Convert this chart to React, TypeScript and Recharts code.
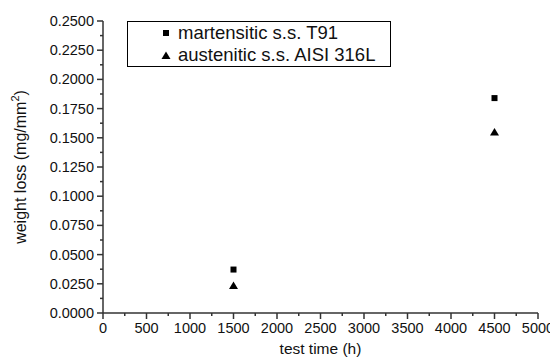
import React from 'react';
import { ScatterChart, Scatter, XAxis, YAxis, Legend } from 'recharts';

const timesT91 = [1500, 4500];
const lossT91 = [0.0372, 0.184];
const times316L = [1500, 4500];
const loss316L = [0.0235, 0.155];
const seriesNames = ['martensitic s.s. T91', 'austenitic s.s. AISI 316L'];

const xMajor = [0, 500, 1000, 1500, 2000, 2500, 3000, 3500, 4000, 4500, 5000];
const xMinor = [250, 750, 1250, 1750, 2250, 2750, 3250, 3750, 4250, 4750];
const yMajor = [0, 0.025, 0.05, 0.075, 0.1, 0.125, 0.15, 0.175, 0.2, 0.225, 0.25];
const yMinor = [0.0125, 0.0375, 0.0625, 0.0875, 0.1125, 0.1375, 0.1625, 0.1875, 0.2125, 0.2375];

const FONT = '"Liberation Sans", Arial, sans-serif';
const AXIS = '#333';

const dataT91 = timesT91.map((t, i) => ({ x: t, y: lossT91[i] }));
const data316L = times316L.map((t, i) => ({ x: t, y: loss316L[i] }));

const isMajor = (arr: number[], v: number) => arr.some((m) => Math.abs(m - v) < 1e-9);

const XTick = (props: any) => {
  const { x, y, payload } = props;
  const v = payload.value;
  const major = isMajor(xMajor, v);
  return (
    <g>
      <line x1={x} x2={x} y1={y} y2={y + (major ? 6 : 3)} stroke={AXIS} strokeWidth={1.5} />
      {major && (
        <text x={x} y={y + 20} textAnchor="middle" fontSize={14.5} fontFamily={FONT} fill="#111">
          {v}
        </text>
      )}
    </g>
  );
};

const YTick = (props: any) => {
  const { x, y, payload } = props;
  const v = payload.value;
  const major = isMajor(yMajor, v);
  return (
    <g>
      <line x1={x} x2={x - (major ? 6 : 3)} y1={y} y2={y} stroke={AXIS} strokeWidth={1.5} />
      {major && (
        <text x={x - 9} y={y + 5} textAnchor="end" fontSize={14.5} fontFamily={FONT} fill="#111">
          {v.toFixed(4)}
        </text>
      )}
    </g>
  );
};

const SquareShape = (props: any) => {
  const { cx, cy } = props;
  return <rect x={cx - 3} y={cy - 3} width={6} height={6} fill="#000" />;
};

const TriangleShape = (props: any) => {
  const { cx, cy } = props;
  return <polygon points={`${cx},${cy - 4} ${cx + 4.5},${cy + 3.5} ${cx - 4.5},${cy + 3.5}`} fill="#000" />;
};

const YLabel = (props: any) => {
  const { viewBox } = props;
  const cy = viewBox.y + viewBox.height / 2;
  const x = 18;
  return (
    <text
      x={x}
      y={cy}
      transform={`rotate(-90, ${x}, ${cy})`}
      textAnchor="middle"
      fontSize={16}
      fontFamily={FONT}
      fill="#111"
    >
      weight loss (mg/mm<tspan dy={-7} fontSize={11}>2</tspan>
      <tspan dy={7}>)</tspan>
    </text>
  );
};

const XLabel = (props: any) => {
  const { viewBox } = props;
  const cx = viewBox.x + viewBox.width / 2;
  return (
    <text x={cx} y={346} textAnchor="middle" fontSize={15.5} fontFamily={FONT} fill="#111">
      test time (h)
    </text>
  );
};

const LegendBox = () => (
  <div
    style={{
      border: '1px solid #000',
      background: '#fff',
      padding: '0px 15px 0px 33px',
      fontFamily: FONT,
      fontSize: 18.5,
      lineHeight: '22px',
      color: '#111',
      whiteSpace: 'nowrap',
    }}
  >
    <div style={{ display: 'flex', alignItems: 'center' }}>
      <svg width={10} height={10} style={{ marginRight: 7 }}>
        <rect x={2} y={2} width={6} height={6} fill="#000" />
      </svg>
      {seriesNames[0]}
    </div>
    <div style={{ display: 'flex', alignItems: 'center' }}>
      <svg width={10} height={10} style={{ marginRight: 7 }}>
        <polygon points="5,1.5 9.5,9 0.5,9" fill="#000" />
      </svg>
      {seriesNames[1]}
    </div>
  </div>
);

export default function App() {
  return (
    <div style={{ width: 550, height: 352 }}>
      <ScatterChart width={550} height={352} margin={{ top: 13, right: 20, bottom: 0, left: 0 }}>
        <XAxis
          type="number"
          dataKey="x"
          domain={[0, 5000]}
          ticks={[...xMajor, ...xMinor].sort((a, b) => a - b)}
          interval={0}
          height={47}
          tickSize={0}
          tickMargin={0}
          tickLine={false}
          tick={<XTick />}
          axisLine={{ stroke: AXIS, strokeWidth: 1.5 }}
          label={<XLabel />}
        />
        <YAxis
          type="number"
          dataKey="y"
          domain={[0, 0.25]}
          ticks={[...yMajor, ...yMinor].sort((a, b) => a - b)}
          interval={0}
          width={95}
          tickSize={0}
          tickMargin={0}
          tickLine={false}
          tick={<YTick />}
          axisLine={{ stroke: AXIS, strokeWidth: 1.5 }}
          label={<YLabel />}
        />
        <Legend
          layout="vertical"
          align="center"
          verticalAlign="middle"
          wrapperStyle={{ top: 13, left: 119, width: 'auto', height: 'auto' }}
          content={() => <LegendBox />}
        />
        <Scatter name={seriesNames[0]} data={dataT91} shape={<SquareShape />} isAnimationActive={false} />
        <Scatter name={seriesNames[1]} data={data316L} shape={<TriangleShape />} isAnimationActive={false} />
      </ScatterChart>
    </div>
  );
}
